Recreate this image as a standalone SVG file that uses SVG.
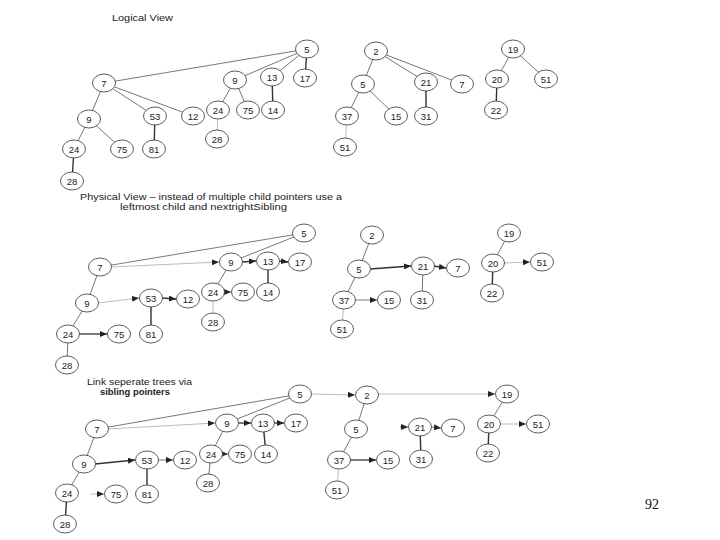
<svg xmlns="http://www.w3.org/2000/svg" width="720" height="540" viewBox="0 0 720 540">
<style>
.node ellipse{fill:#fff;stroke:#333;stroke-width:0.8}
.node text{font-family:"Liberation Sans",Arial,sans-serif;font-size:9.5px;fill:#222;text-anchor:middle}
.e{stroke:#555;stroke-width:0.8;fill:none}
.t{stroke:#333;stroke-width:1.4;fill:none}
.l{stroke:#aaa;stroke-width:0.8;fill:none}
.a{stroke:#555;stroke-width:0.8;fill:none;marker-end:url(#ah)}
.at{stroke:#333;stroke-width:1.3;fill:none;marker-end:url(#ah)}
.h{font-family:"Liberation Sans",Arial,sans-serif;font-size:9px;fill:#222}
</style>
<defs>
<marker id="ah" markerUnits="userSpaceOnUse" markerWidth="7" markerHeight="6" refX="7" refY="3" orient="auto"><path d="M0,0 L7,3 L0,6 z" fill="#222"/></marker>
</defs>
<rect width="720" height="540" fill="#fff"/>
<g id="labels">
<text class="h" x="112" y="21" textLength="61" lengthAdjust="spacingAndGlyphs">Logical  View</text>
<text class="h" x="80" y="200" textLength="262" lengthAdjust="spacingAndGlyphs">Physical View – instead of multiple child pointers  use a</text>
<text class="h" x="120" y="210" textLength="167" lengthAdjust="spacingAndGlyphs">leftmost child and nextrightSibling</text>
<text class="h" x="87" y="385" textLength="105" lengthAdjust="spacingAndGlyphs">Link seperate trees via</text>
<text class="h" x="100" y="395" textLength="70" lengthAdjust="spacingAndGlyphs" style="font-weight:bold">sibling pointers</text>
<text x="652" y="509" text-anchor="middle" style="font-family:'Liberation Serif','Times New Roman',serif;font-size:14px;fill:#111">92</text>
</g>
<g id="connectors">
<line class="e" x1="307" y1="49" x2="104" y2="83"/>
<line class="e" x1="307" y1="49" x2="235" y2="80"/>
<line class="e" x1="307" y1="49" x2="272" y2="77"/>
<line class="t" x1="307" y1="49" x2="305" y2="78"/>
<line class="e" x1="104" y1="83" x2="89" y2="119"/>
<line class="e" x1="104" y1="83" x2="155" y2="116"/>
<line class="e" x1="104" y1="83" x2="193" y2="116"/>
<line class="e" x1="235" y1="80" x2="218" y2="110"/>
<line class="e" x1="235" y1="80" x2="248" y2="110"/>
<line class="t" x1="272" y1="77" x2="273" y2="110"/>
<line class="l" x1="218" y1="110" x2="217" y2="139"/>
<line class="e" x1="89" y1="119" x2="74" y2="149"/>
<line class="e" x1="89" y1="119" x2="122" y2="149"/>
<line class="t" x1="155" y1="116" x2="154" y2="149"/>
<line class="t" x1="74" y1="149" x2="72" y2="181"/>
<line class="e" x1="376" y1="51" x2="363" y2="84"/>
<line class="e" x1="376" y1="51" x2="426" y2="82"/>
<line class="e" x1="376" y1="51" x2="462" y2="84"/>
<line class="e" x1="363" y1="84" x2="347" y2="116"/>
<line class="e" x1="363" y1="84" x2="396" y2="116"/>
<line class="t" x1="426" y1="82" x2="426" y2="116"/>
<line class="l" x1="347" y1="116" x2="345" y2="147"/>
<line class="e" x1="513" y1="49" x2="497" y2="79"/>
<line class="e" x1="513" y1="49" x2="546" y2="79"/>
<line class="t" x1="497" y1="79" x2="496" y2="110"/>
<line class="e" x1="304" y1="233" x2="100" y2="267"/>
<line class="e" x1="304" y1="233" x2="231" y2="262"/>
<line class="t" x1="268" y1="261" x2="268" y2="292"/>
<line class="e" x1="100" y1="267" x2="87" y2="303"/>
<line class="e" x1="231" y1="262" x2="213" y2="292"/>
<line class="l" x1="213" y1="292" x2="213" y2="322"/>
<line class="t" x1="151" y1="298" x2="151" y2="334"/>
<line class="e" x1="87" y1="303" x2="68" y2="334"/>
<line class="e" x1="68" y1="334" x2="67" y2="365"/>
<line class="l" x1="111" y1="267" x2="219" y2="262" style="marker-end:url(#ah)"/>
<line class="at" x1="242" y1="262" x2="256" y2="261"/>
<line class="at" x1="279" y1="261" x2="288" y2="262"/>
<line class="a" x1="224" y1="292" x2="231" y2="292"/>
<line class="l" x1="98" y1="303" x2="139" y2="298" style="marker-end:url(#ah)"/>
<line class="at" x1="162" y1="298" x2="176" y2="299"/>
<line class="at" x1="79" y1="334" x2="107" y2="334"/>
<line class="e" x1="372" y1="235" x2="359" y2="269"/>
<line class="e" x1="359" y1="269" x2="344" y2="300"/>
<line class="e" x1="423" y1="266" x2="422" y2="300"/>
<line class="l" x1="344" y1="300" x2="342" y2="329"/>
<line class="e" x1="509" y1="233" x2="493" y2="263"/>
<line class="t" x1="493" y1="263" x2="492" y2="293"/>
<line class="at" x1="370" y1="269" x2="411" y2="266"/>
<line class="at" x1="434" y1="266" x2="446" y2="268"/>
<line class="a" x1="355" y1="300" x2="377" y2="300"/>
<line class="l" x1="504" y1="263" x2="530" y2="262" style="marker-end:url(#ah)"/>
<line class="e" x1="300" y1="394" x2="97" y2="429"/>
<line class="e" x1="300" y1="394" x2="227" y2="423"/>
<line class="t" x1="263" y1="423" x2="266" y2="454"/>
<line class="e" x1="97" y1="429" x2="84" y2="464"/>
<line class="e" x1="227" y1="423" x2="211" y2="454"/>
<line class="e" x1="211" y1="454" x2="208" y2="483"/>
<line class="t" x1="147" y1="460" x2="147" y2="494"/>
<line class="e" x1="84" y1="464" x2="67" y2="493"/>
<line class="t" x1="67" y1="493" x2="65" y2="524"/>
<line class="l" x1="108" y1="429" x2="215" y2="423" style="marker-end:url(#ah)"/>
<line class="at" x1="238" y1="423" x2="251" y2="423"/>
<line class="at" x1="274" y1="423" x2="284" y2="423"/>
<line class="a" x1="222" y1="454" x2="228" y2="454"/>
<line class="at" x1="95" y1="464" x2="135" y2="460"/>
<line class="a" x1="158" y1="460" x2="173" y2="460"/>
<line class="l" x1="90" y1="494" x2="104" y2="494" style="marker-end:url(#ah)"/>
<line class="l" x1="311" y1="394" x2="355" y2="395" style="marker-end:url(#ah)"/>
<line class="l" x1="378" y1="394" x2="495" y2="394" style="marker-end:url(#ah)"/>
<line class="e" x1="367" y1="395" x2="356" y2="429"/>
<line class="e" x1="356" y1="429" x2="339" y2="460"/>
<line class="at" x1="350" y1="460" x2="376" y2="460"/>
<line class="l" x1="339" y1="460" x2="337" y2="490"/>
<line class="a" x1="400" y1="427" x2="408" y2="427"/>
<line class="a" x1="431" y1="427" x2="441" y2="428"/>
<line class="t" x1="420" y1="427" x2="421" y2="459"/>
<line class="e" x1="507" y1="394" x2="489" y2="424"/>
<line class="l" x1="500" y1="424" x2="526" y2="424" style="marker-end:url(#ah)"/>
<line class="t" x1="489" y1="424" x2="488" y2="453"/>
</g>
<g id="n1-5" class="node"><ellipse cx="307" cy="49" rx="11.5" ry="9"/><text x="307" y="52.5">5</text></g>
<g id="n1-7" class="node"><ellipse cx="104" cy="83" rx="11.5" ry="9"/><text x="104" y="86.5">7</text></g>
<g id="n1-9" class="node"><ellipse cx="235" cy="80" rx="11.5" ry="9"/><text x="235" y="83.5">9</text></g>
<g id="n1-13" class="node"><ellipse cx="272" cy="77" rx="11.5" ry="9"/><text x="272" y="80.5">13</text></g>
<g id="n1-17" class="node"><ellipse cx="305" cy="78" rx="11.5" ry="9"/><text x="305" y="81.5">17</text></g>
<g id="n1-9b" class="node"><ellipse cx="89" cy="119" rx="11.5" ry="9"/><text x="89" y="122.5">9</text></g>
<g id="n1-53" class="node"><ellipse cx="155" cy="116" rx="11.5" ry="9"/><text x="155" y="119.5">53</text></g>
<g id="n1-12" class="node"><ellipse cx="193" cy="116" rx="11.5" ry="9"/><text x="193" y="119.5">12</text></g>
<g id="n1-24" class="node"><ellipse cx="218" cy="110" rx="11.5" ry="9"/><text x="218" y="113.5">24</text></g>
<g id="n1-75" class="node"><ellipse cx="248" cy="110" rx="11.5" ry="9"/><text x="248" y="113.5">75</text></g>
<g id="n1-14" class="node"><ellipse cx="273" cy="110" rx="11.5" ry="9"/><text x="273" y="113.5">14</text></g>
<g id="n1-28" class="node"><ellipse cx="217" cy="139" rx="11.5" ry="9"/><text x="217" y="142.5">28</text></g>
<g id="n1-24b" class="node"><ellipse cx="74" cy="149" rx="11.5" ry="9"/><text x="74" y="152.5">24</text></g>
<g id="n1-75b" class="node"><ellipse cx="122" cy="149" rx="11.5" ry="9"/><text x="122" y="152.5">75</text></g>
<g id="n1-81" class="node"><ellipse cx="154" cy="149" rx="11.5" ry="9"/><text x="154" y="152.5">81</text></g>
<g id="n1-28b" class="node"><ellipse cx="72" cy="181" rx="11.5" ry="9"/><text x="72" y="184.5">28</text></g>
<g id="n1-2" class="node"><ellipse cx="376" cy="51" rx="11.5" ry="9"/><text x="376" y="54.5">2</text></g>
<g id="n1-5b" class="node"><ellipse cx="363" cy="84" rx="11.5" ry="9"/><text x="363" y="87.5">5</text></g>
<g id="n1-21" class="node"><ellipse cx="426" cy="82" rx="11.5" ry="9"/><text x="426" y="85.5">21</text></g>
<g id="n1-7b" class="node"><ellipse cx="462" cy="84" rx="11.5" ry="9"/><text x="462" y="87.5">7</text></g>
<g id="n1-37" class="node"><ellipse cx="347" cy="116" rx="11.5" ry="9"/><text x="347" y="119.5">37</text></g>
<g id="n1-15" class="node"><ellipse cx="396" cy="116" rx="11.5" ry="9"/><text x="396" y="119.5">15</text></g>
<g id="n1-31" class="node"><ellipse cx="426" cy="116" rx="11.5" ry="9"/><text x="426" y="119.5">31</text></g>
<g id="n1-51" class="node"><ellipse cx="345" cy="147" rx="11.5" ry="9"/><text x="345" y="150.5">51</text></g>
<g id="n1-19" class="node"><ellipse cx="513" cy="49" rx="11.5" ry="9"/><text x="513" y="52.5">19</text></g>
<g id="n1-20" class="node"><ellipse cx="497" cy="79" rx="11.5" ry="9"/><text x="497" y="82.5">20</text></g>
<g id="n1-51b" class="node"><ellipse cx="546" cy="79" rx="11.5" ry="9"/><text x="546" y="82.5">51</text></g>
<g id="n1-22" class="node"><ellipse cx="496" cy="110" rx="11.5" ry="9"/><text x="496" y="113.5">22</text></g>
<g id="n2-5" class="node"><ellipse cx="304" cy="233" rx="11.5" ry="9"/><text x="304" y="236.5">5</text></g>
<g id="n2-7" class="node"><ellipse cx="100" cy="267" rx="11.5" ry="9"/><text x="100" y="270.5">7</text></g>
<g id="n2-9" class="node"><ellipse cx="231" cy="262" rx="11.5" ry="9"/><text x="231" y="265.5">9</text></g>
<g id="n2-13" class="node"><ellipse cx="268" cy="261" rx="11.5" ry="9"/><text x="268" y="264.5">13</text></g>
<g id="n2-17" class="node"><ellipse cx="300" cy="262" rx="11.5" ry="9"/><text x="300" y="265.5">17</text></g>
<g id="n2-9b" class="node"><ellipse cx="87" cy="303" rx="11.5" ry="9"/><text x="87" y="306.5">9</text></g>
<g id="n2-53" class="node"><ellipse cx="151" cy="298" rx="11.5" ry="9"/><text x="151" y="301.5">53</text></g>
<g id="n2-12" class="node"><ellipse cx="188" cy="299" rx="11.5" ry="9"/><text x="188" y="302.5">12</text></g>
<g id="n2-24" class="node"><ellipse cx="213" cy="292" rx="11.5" ry="9"/><text x="213" y="295.5">24</text></g>
<g id="n2-75" class="node"><ellipse cx="243" cy="292" rx="11.5" ry="9"/><text x="243" y="295.5">75</text></g>
<g id="n2-14" class="node"><ellipse cx="268" cy="292" rx="11.5" ry="9"/><text x="268" y="295.5">14</text></g>
<g id="n2-28" class="node"><ellipse cx="213" cy="322" rx="11.5" ry="9"/><text x="213" y="325.5">28</text></g>
<g id="n2-24b" class="node"><ellipse cx="68" cy="334" rx="11.5" ry="9"/><text x="68" y="337.5">24</text></g>
<g id="n2-75b" class="node"><ellipse cx="119" cy="334" rx="11.5" ry="9"/><text x="119" y="337.5">75</text></g>
<g id="n2-81" class="node"><ellipse cx="151" cy="334" rx="11.5" ry="9"/><text x="151" y="337.5">81</text></g>
<g id="n2-28b" class="node"><ellipse cx="67" cy="365" rx="11.5" ry="9"/><text x="67" y="368.5">28</text></g>
<g id="n2-2" class="node"><ellipse cx="372" cy="235" rx="11.5" ry="9"/><text x="372" y="238.5">2</text></g>
<g id="n2-5b" class="node"><ellipse cx="359" cy="269" rx="11.5" ry="9"/><text x="359" y="272.5">5</text></g>
<g id="n2-21" class="node"><ellipse cx="423" cy="266" rx="11.5" ry="9"/><text x="423" y="269.5">21</text></g>
<g id="n2-7b" class="node"><ellipse cx="458" cy="268" rx="11.5" ry="9"/><text x="458" y="271.5">7</text></g>
<g id="n2-37" class="node"><ellipse cx="344" cy="300" rx="11.5" ry="9"/><text x="344" y="303.5">37</text></g>
<g id="n2-15" class="node"><ellipse cx="389" cy="300" rx="11.5" ry="9"/><text x="389" y="303.5">15</text></g>
<g id="n2-31" class="node"><ellipse cx="422" cy="300" rx="11.5" ry="9"/><text x="422" y="303.5">31</text></g>
<g id="n2-51" class="node"><ellipse cx="342" cy="329" rx="11.5" ry="9"/><text x="342" y="332.5">51</text></g>
<g id="n2-19" class="node"><ellipse cx="509" cy="233" rx="11.5" ry="9"/><text x="509" y="236.5">19</text></g>
<g id="n2-20" class="node"><ellipse cx="493" cy="263" rx="11.5" ry="9"/><text x="493" y="266.5">20</text></g>
<g id="n2-51b" class="node"><ellipse cx="542" cy="262" rx="11.5" ry="9"/><text x="542" y="265.5">51</text></g>
<g id="n2-22" class="node"><ellipse cx="492" cy="293" rx="11.5" ry="9"/><text x="492" y="296.5">22</text></g>
<g id="n3-5" class="node"><ellipse cx="300" cy="394" rx="11.5" ry="9"/><text x="300" y="397.5">5</text></g>
<g id="n3-7" class="node"><ellipse cx="97" cy="429" rx="11.5" ry="9"/><text x="97" y="432.5">7</text></g>
<g id="n3-9" class="node"><ellipse cx="227" cy="423" rx="11.5" ry="9"/><text x="227" y="426.5">9</text></g>
<g id="n3-13" class="node"><ellipse cx="263" cy="423" rx="11.5" ry="9"/><text x="263" y="426.5">13</text></g>
<g id="n3-17" class="node"><ellipse cx="296" cy="423" rx="11.5" ry="9"/><text x="296" y="426.5">17</text></g>
<g id="n3-9b" class="node"><ellipse cx="84" cy="464" rx="11.5" ry="9"/><text x="84" y="467.5">9</text></g>
<g id="n3-53" class="node"><ellipse cx="147" cy="460" rx="11.5" ry="9"/><text x="147" y="463.5">53</text></g>
<g id="n3-12" class="node"><ellipse cx="185" cy="460" rx="11.5" ry="9"/><text x="185" y="463.5">12</text></g>
<g id="n3-24" class="node"><ellipse cx="211" cy="454" rx="11.5" ry="9"/><text x="211" y="457.5">24</text></g>
<g id="n3-75" class="node"><ellipse cx="240" cy="454" rx="11.5" ry="9"/><text x="240" y="457.5">75</text></g>
<g id="n3-14" class="node"><ellipse cx="266" cy="454" rx="11.5" ry="9"/><text x="266" y="457.5">14</text></g>
<g id="n3-28" class="node"><ellipse cx="208" cy="483" rx="11.5" ry="9"/><text x="208" y="486.5">28</text></g>
<g id="n3-24b" class="node"><ellipse cx="67" cy="493" rx="11.5" ry="9"/><text x="67" y="496.5">24</text></g>
<g id="n3-75b" class="node"><ellipse cx="116" cy="494" rx="11.5" ry="9"/><text x="116" y="497.5">75</text></g>
<g id="n3-81" class="node"><ellipse cx="147" cy="494" rx="11.5" ry="9"/><text x="147" y="497.5">81</text></g>
<g id="n3-28b" class="node"><ellipse cx="65" cy="524" rx="11.5" ry="9"/><text x="65" y="527.5">28</text></g>
<g id="n3-2" class="node"><ellipse cx="367" cy="395" rx="11.5" ry="9"/><text x="367" y="398.5">2</text></g>
<g id="n3-5b" class="node"><ellipse cx="356" cy="429" rx="11.5" ry="9"/><text x="356" y="432.5">5</text></g>
<g id="n3-21" class="node"><ellipse cx="420" cy="427" rx="11.5" ry="9"/><text x="420" y="430.5">21</text></g>
<g id="n3-7b" class="node"><ellipse cx="453" cy="428" rx="11.5" ry="9"/><text x="453" y="431.5">7</text></g>
<g id="n3-37" class="node"><ellipse cx="339" cy="460" rx="11.5" ry="9"/><text x="339" y="463.5">37</text></g>
<g id="n3-15" class="node"><ellipse cx="388" cy="460" rx="11.5" ry="9"/><text x="388" y="463.5">15</text></g>
<g id="n3-31" class="node"><ellipse cx="421" cy="459" rx="11.5" ry="9"/><text x="421" y="462.5">31</text></g>
<g id="n3-51" class="node"><ellipse cx="337" cy="490" rx="11.5" ry="9"/><text x="337" y="493.5">51</text></g>
<g id="n3-19" class="node"><ellipse cx="507" cy="394" rx="11.5" ry="9"/><text x="507" y="397.5">19</text></g>
<g id="n3-20" class="node"><ellipse cx="489" cy="424" rx="11.5" ry="9"/><text x="489" y="427.5">20</text></g>
<g id="n3-51b" class="node"><ellipse cx="538" cy="424" rx="11.5" ry="9"/><text x="538" y="427.5">51</text></g>
<g id="n3-22" class="node"><ellipse cx="488" cy="453" rx="11.5" ry="9"/><text x="488" y="456.5">22</text></g>
</svg>
